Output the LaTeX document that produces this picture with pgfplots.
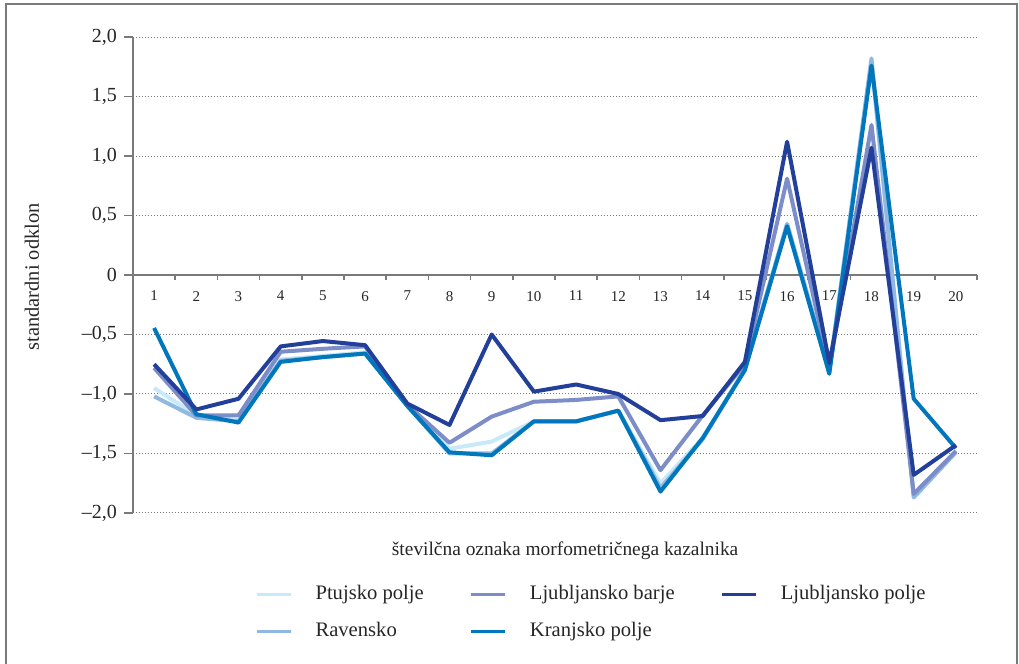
\documentclass[border=0pt]{standalone}
\usepackage{pgfplots}
\usepackage{pgfplotstable}
\pgfplotsset{compat=1.18}
\usepackage{fontspec}
\setmainfont{Liberation Serif}
\definecolor{cPt}{HTML}{C8EAF8}
\definecolor{cRa}{HTML}{8FB8E3}
\definecolor{cBa}{HTML}{7D8DC8}
\definecolor{cKr}{HTML}{0077BC}
\definecolor{cLp}{HTML}{22409A}
\definecolor{axgray}{HTML}{7A7A7A}

\pgfplotstableread{
x  Pt     Ra     Ba     Kr     Lp
1  -0.95  -1.02  -0.78  -0.445 -0.75
2  -1.18  -1.20  -1.18  -1.17  -1.13
3  -1.22  -1.23  -1.18  -1.24  -1.04
4  -0.71  -0.72  -0.645 -0.73  -0.60
5  -0.68  -0.69  -0.62  -0.69  -0.555
6  -0.65  -0.66  -0.60  -0.66  -0.59
7  -1.09  -1.10  -1.09  -1.10  -1.08
8  -1.46  -1.50  -1.41  -1.49  -1.26
9  -1.40  -1.50  -1.19  -1.515 -0.50
10 -1.23  -1.23  -1.065 -1.23  -0.98
11 -1.23  -1.23  -1.05  -1.23  -0.92
12 -1.14  -1.14  -1.02  -1.14  -1.00
13 -1.75  -1.79  -1.64  -1.82  -1.22
14 -1.37  -1.38  -1.18  -1.37  -1.185
15 -0.79  -0.79  -0.75  -0.80  -0.73
16 0.43   0.43   0.81   0.41   1.12
17 -0.80  -0.81  -0.78  -0.83  -0.74
18 1.79   1.82   1.26   1.76   1.07
19 -1.85  -1.87  -1.84  -1.04  -1.68
20 -1.48  -1.49  -1.48  -1.455 -1.43
}\data

\begin{document}
\begin{tikzpicture}[x=1pt,y=1pt]
\useasboundingbox (0,0) rectangle (509.5,332);
\draw[axgray, line width=1pt] (3,0) -- (3,329.75) -- (508.5,329.75) -- (508.5,0);
\begin{axis}[
  at={(66.5pt,75.5pt)}, anchor=south west,
  scale only axis, width=422pt, height=238pt,
  xmin=0.5, xmax=20.5, ymin=-2, ymax=2,
  axis x line=middle, axis y line=left,
  axis line style={-, axgray, line width=0.8pt},
  hide obscured x ticks=false, hide obscured y ticks=false,
  xtick={1,...,20},
  minor xtick={0.5,1.5,...,20.5},
  major x tick style={draw=none},
  minor x tick style={axgray, line width=0.8pt},
  minor tick length=2.5pt,
  major tick length=4.5pt,
  tick align=outside,
  ytick={-2,-1.5,-1,-0.5,0,0.5,1,1.5,2},
  yticklabels={{–2,0},{–1,5},{–1,0},{–0,5},0,{0,5},{1,0},{1,5},{2,0}},
  y tick style={axgray, line width=0.8pt},
  ymajorgrids,
  grid style={axgray, dash pattern=on 0.6pt off 0.9pt, line width=0.5pt},
  /pgf/number format/assume math mode=true,
  xticklabel style={font=\fontsize{7.5}{9}\selectfont, text=black!85},
  yticklabel style={font=\fontsize{10}{12}\selectfont, text=black!85},
  xlabel={številčna oznaka morfometričnega kazalnika},
  xlabel style={at={(axis description cs:0.512,-0.0798)}, anchor=center, font=\fontsize{9.7}{12}\selectfont, text=black!85},
  ylabel={standardni odklon},
  ylabel style={at={(axis description cs:-0.1197,0.496)}, anchor=center, rotate=0, font=\fontsize{10.2}{12}\selectfont, text=black!85},
  legend columns=3,
  legend cell align=left,
  legend style={at={(axis description cs:0.1445,-0.149)}, anchor=north west, draw=none, fill=none, inner sep=0pt,
    font=\fontsize{10.3}{12}\selectfont, text=black!85,
    nodes={inner sep=0pt, text height=7.5pt, text depth=2.5pt},
    row sep=8.5pt,
    /tikz/every odd column/.append style={column sep=11.5pt},
    /tikz/every even column/.append style={column sep=23pt}},
  legend image code/.code={\draw[#1] (0pt,0pt) -- (17pt,0pt);},
  every axis plot/.append style={line width=2pt, line join=round},
]
\addlegendimage{cPt, line width=1.6pt}\addlegendentry{Ptujsko polje}
\addlegendimage{cBa, line width=1.6pt}\addlegendentry{Ljubljansko barje}
\addlegendimage{cLp, line width=1.6pt}\addlegendentry{Ljubljansko polje}
\addlegendimage{cRa, line width=1.6pt}\addlegendentry{Ravensko}
\addlegendimage{cKr, line width=1.6pt}\addlegendentry{Kranjsko polje}

\addplot[cPt, forget plot] table[x=x, y=Pt]{\data};
\addplot[cRa, forget plot] table[x=x, y=Ra]{\data};
\addplot[cBa, forget plot] table[x=x, y=Ba]{\data};
\addplot[cKr, forget plot] table[x=x, y=Kr]{\data};
\addplot[cLp, forget plot] table[x=x, y=Lp]{\data};
\end{axis}
\end{tikzpicture}
\end{document}
